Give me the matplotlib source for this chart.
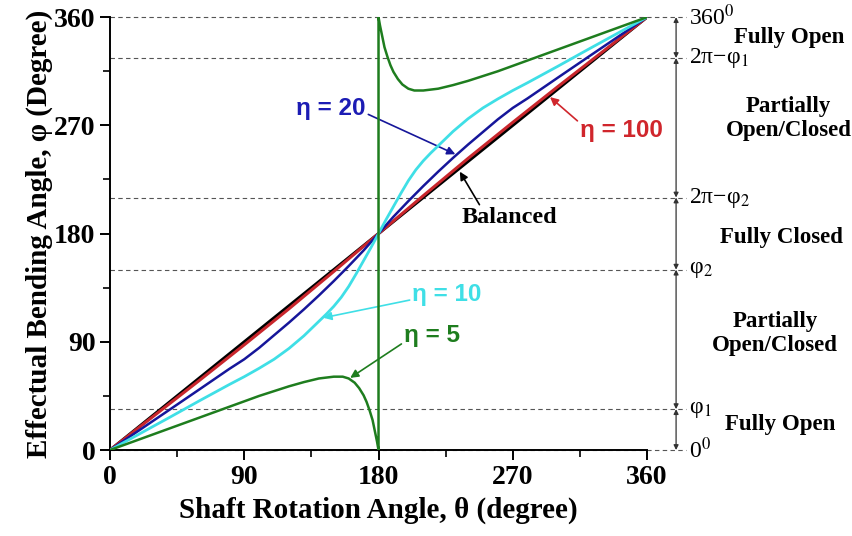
import matplotlib
matplotlib.use("Agg")
import matplotlib.pyplot as plt
from matplotlib.ticker import MultipleLocator

plt.rcParams["font.family"] = ["Liberation Serif", "DejaVu Serif"]
plt.rcParams["mathtext.fontset"] = "stix"

# --- Kurvendaten: effektiver Biegewinkel phi über Wellenwinkel theta ---
theta_bal = [0, 360]
phi_bal = [0, 360]

theta_100 = [0, 30, 60, 90, 120, 150, 180, 210, 240, 270, 300, 330, 360]
phi_100 = [0, 29.0, 58.0, 87.5, 117.5, 148.5, 180, 211.5, 242.5, 272.5, 302.0, 331.0, 360]

theta_20 = [0, 20, 40, 60, 80, 90, 100, 110, 120, 130, 140, 150, 160, 170, 180,
            190, 200, 210, 220, 230, 240, 250, 260, 270, 280, 300, 320, 340, 360]
phi_20 = [0, 16.8, 33.6, 50.5, 67.5, 75.5, 85.0, 95.5, 106.0, 117.0, 128.5, 140.5, 153.0, 166.0, 180,
          194.0, 207.0, 219.5, 231.5, 243.0, 254.0, 264.5, 275.0, 284.5, 292.5, 309.5, 326.4, 343.2, 360]

theta_10 = [0, 20, 40, 60, 80, 90, 100, 110, 120, 130, 140, 145, 150, 155, 160, 165, 170, 175, 180,
            185, 190, 195, 200, 205, 210, 215, 220, 230, 240, 250, 260, 270, 280, 300, 320, 340, 360]
phi_10 = [0, 13.6, 27.2, 41.0, 54.5, 61.0, 68.0, 75.5, 84.5, 95.0, 107.0, 113.0, 119.5, 127.0, 136.0,
          146.5, 157.5, 168.5, 180,
          191.5, 202.5, 213.5, 224.0, 233.0, 240.5, 247.0, 253.0, 265.0, 275.5, 284.5, 292.0, 299.0,
          305.5, 319.0, 332.8, 346.4, 360]

theta_5 = [0, 20, 40, 60, 80, 100, 120, 130, 140, 150, 156, 160, 164, 167, 170, 172, 174, 176, 178, 179, 180,
           180, 181, 182, 184, 186, 188, 190, 193, 196, 200, 204, 210, 220, 230, 240, 260, 280, 300, 320, 340, 360]
phi_5 = [0, 9.0, 18.0, 27.0, 36.0, 45.0, 53.0, 56.5, 59.5, 61.0, 61.0, 59.5, 56.0, 51.5, 45.5, 40.0, 33.0,
         25.0, 13.0, 7.0, 0,
         360, 353.0, 347.0, 335.0, 327.0, 320.0, 314.5, 308.5, 304.0, 300.5, 299.0, 299.0, 300.5, 303.5,
         307.0, 315.0, 324.0, 333.0, 342.0, 351.0, 360]

# Grenzwinkel der Bereiche (phi_1 = 34, phi_2 = 150)
levels = [0, 34, 150, 210, 326, 360]
level_labels = ["0$^0$", "φ$_1$", "φ$_2$", "2π−φ$_2$", "2π−φ$_1$", "360$^0$"]
regions = ["Fully Open", "Partially\nOpen/Closed", "Fully Closed",
           "Partially\nOpen/Closed", "Fully Open"]
region_x = [449, 446, 450, 455, 455]
region_y = [21, 97, 177, 276, 343]

fig = plt.figure(figsize=(8.53, 5.36), dpi=100)
ax = fig.add_axes([0.129, 0.1604, 0.6295, 0.8076])

# --- Bereichsgrenzen ---
for y in levels:
    ax.plot([0, 386], [y, y], ls=(0, (4, 3)), color="#555555", lw=0.8, clip_on=False, zorder=1)

for y, lab in zip(levels, level_labels):
    ax.text(388, y, lab, fontsize=17, ha="left", va="center", clip_on=False)

for lo, hi in zip(levels[:-1], levels[1:]):
    ax.annotate("", xy=(379.5, lo), xytext=(379.5, hi), annotation_clip=False,
                arrowprops=dict(arrowstyle="<|-|>", color="#333333", lw=0.9,
                                mutation_scale=7, shrinkA=0, shrinkB=0))

for x, y, txt in zip(region_x, region_y, regions):
    ax.text(x, y, txt, fontsize=16.5, fontweight="bold", ha="center", va="center",
            linespacing=1.2, clip_on=False)

# --- Kurven ---
ax.plot(theta_bal, phi_bal, color="black", lw=2.2, zorder=3)
ax.plot(theta_100, phi_100, color="#c8262c", lw=2.2, zorder=4)
ax.plot(theta_20, phi_20, color="#16169a", lw=1.8, zorder=4)
ax.plot(theta_10, phi_10, color="#3fdfe6", lw=2.0, zorder=4)
ax.plot(theta_5, phi_5, color="#1e7d1e", lw=1.8, zorder=4)

# --- Beschriftungen der Kurven ---
arrow = dict(arrowstyle="-|>", lw=1.2, mutation_scale=12, shrinkA=0, shrinkB=0)
sans = ["Liberation Sans", "DejaVu Sans"]
ax.annotate("η = 20", xy=(231.5, 246), xytext=(148, 284), color="#1c1cb4",
            fontsize=17.5, fontweight="bold", family=sans, ha="center", va="center",
            arrowprops=dict(arrow, color="#16169a", relpos=(1.0, 0.3)))
ax.annotate("η = 100", xy=(295, 293.5), xytext=(343, 266), color="#d0262c",
            fontsize=17.5, fontweight="bold", family=sans, ha="center", va="center",
            arrowprops=dict(arrow, color="#d0262c", relpos=(0.0, 0.8)))
ax.annotate("Balanced", xy=(234.5, 231.5), xytext=(268, 193), color="black",
            fontsize=17.5, fontweight="bold", ha="center", va="center",
            arrowprops=dict(arrow, color="black", relpos=(0.2, 1.0)))
ax.annotate("η = 10", xy=(143, 110), xytext=(226, 129), color="#3fdfe6",
            fontsize=17.5, fontweight="bold", family=sans, ha="center", va="center",
            arrowprops=dict(arrow, color="#3fdfe6", relpos=(0.0, 0.3)))
ax.annotate("η = 5", xy=(161, 60), xytext=(216, 95.5), color="#1e7d1e",
            fontsize=17.5, fontweight="bold", family=sans, ha="center", va="center",
            arrowprops=dict(arrow, color="#1e7d1e", relpos=(0.0, 0.2)))

# --- Achsen ---
ax.set_xlim(0, 360)
ax.set_ylim(0, 360)
ax.xaxis.set_major_locator(MultipleLocator(90))
ax.xaxis.set_minor_locator(MultipleLocator(45))
ax.yaxis.set_major_locator(MultipleLocator(90))
ax.yaxis.set_minor_locator(MultipleLocator(45))
ax.spines[["top", "right"]].set_visible(False)
for s in ["left", "bottom"]:
    ax.spines[s].set_linewidth(1.4)
ax.tick_params(which="major", length=7, width=1.4, labelsize=20, direction="out")
ax.tick_params(which="minor", length=5, width=1.2, direction="out")
for lab in ax.get_xticklabels() + ax.get_yticklabels():
    lab.set_fontweight("bold")

ax.set_xlabel("Shaft Rotation Angle, θ (degree)", fontsize=21, fontweight="bold", labelpad=5)
ax.set_ylabel("Effectual Bending Angle, φ (Degree)", fontsize=21, fontweight="bold", labelpad=1)

fig.savefig("out.png", dpi=100)
